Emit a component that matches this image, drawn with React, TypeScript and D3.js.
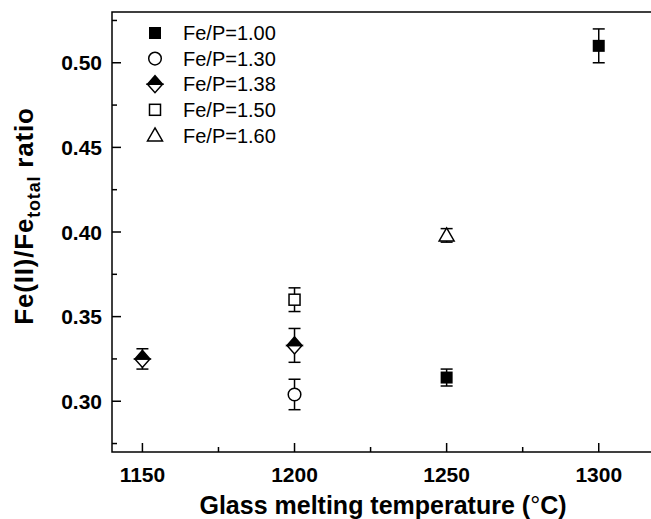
import React from 'react';
import * as d3 from 'd3';

// series (temperature °C, Fe(II)/Fe_total ratio, error)
const seriesNames = ['Fe/P=1.00', 'Fe/P=1.30', 'Fe/P=1.38', 'Fe/P=1.50', 'Fe/P=1.60'];
const fe100 = [{ t: 1250, v: 0.314, e: 0.005 }, { t: 1300, v: 0.51, e: 0.01 }];
const fe130 = [{ t: 1200, v: 0.304, e: 0.009 }];
const fe138 = [{ t: 1150, v: 0.325, e: 0.006 }, { t: 1200, v: 0.333, e: 0.01 }];
const fe150 = [{ t: 1200, v: 0.36, e: 0.007 }];
const fe160 = [{ t: 1250, v: 0.398, e: 0.004 }];

const xTicks = [1150, 1200, 1250, 1300];
const xMinor = [1175, 1225, 1275];
const yTicks = [0.3, 0.35, 0.4, 0.45, 0.5];
const yMinor = [0.275, 0.325, 0.375, 0.425, 0.475, 0.525];

const W = 651;
const H = 519;
const left = 112, top = 12, bottom = 452, right = 690;

const x = d3.scaleLinear().domain([1140, 1330]).range([left, right]);
const y = d3.scaleLinear().domain([0.27, 0.53]).range([bottom, top]);

type Shape = 'sq' | 'circle' | 'diamond' | 'osq' | 'tri';
const shapes: Shape[] = ['sq', 'circle', 'diamond', 'osq', 'tri'];
const allSeries = [fe100, fe130, fe138, fe150, fe160];

function Marker({ shape, cx, cy }: { shape: Shape; cx: number; cy: number }) {
  const sw = 1.5;
  if (shape === 'sq') return <rect x={cx - 6} y={cy - 6} width={12} height={12} fill="#000" />;
  if (shape === 'osq')
    return <rect x={cx - 5.5} y={cy - 5.5} width={11} height={11} fill="#fff" stroke="#000" strokeWidth={sw} />;
  if (shape === 'circle') return <circle cx={cx} cy={cy} r={6.3} fill="#fff" stroke="#000" strokeWidth={sw} />;
  if (shape === 'tri')
    return (
      <path
        d={`M${cx},${cy - 7.5}L${cx + 7.5},${cy + 5.5}L${cx - 7.5},${cy + 5.5}Z`}
        fill="#fff"
        stroke="#000"
        strokeWidth={sw}
      />
    );
  // half-filled diamond
  const hw = 7.5, hh = 8.5;
  return (
    <g>
      <path d={`M${cx - hw},${cy}L${cx},${cy + hh}L${cx + hw},${cy}Z`} fill="#fff" stroke="#000" strokeWidth={sw} />
      <path d={`M${cx - hw},${cy}L${cx},${cy - hh}L${cx + hw},${cy}Z`} fill="#000" stroke="#000" strokeWidth={sw} />
    </g>
  );
}

export default function App() {
  const font = 'Liberation Sans, Arial, sans-serif';
  return (
    <svg width={W} height={H} style={{ position: 'absolute', left: 0, top: 0, background: '#fff' }}>
      {/* frame */}
      <rect x={left} y={top} width={right - left} height={bottom - top} fill="none" stroke="#000" strokeWidth={1.5} />

      {/* y ticks */}
      {yTicks.map((t) => (
        <g key={'y' + t}>
          <line x1={left} x2={left + 9} y1={y(t)} y2={y(t)} stroke="#000" strokeWidth={1.5} />
          <text x={left - 10} y={y(t)} dy="0.36em" textAnchor="end" fontSize={21} fontFamily={font} fontWeight={700}>
            {d3.format('.2f')(t)}
          </text>
        </g>
      ))}
      {yMinor.map((t) => (
        <line key={'ym' + t} x1={left} x2={left + 5} y1={y(t)} y2={y(t)} stroke="#000" strokeWidth={1.5} />
      ))}

      {/* x ticks */}
      {xTicks.map((t) => (
        <g key={'x' + t}>
          <line x1={x(t)} x2={x(t)} y1={bottom} y2={bottom - 9} stroke="#000" strokeWidth={1.5} />
          <text x={x(t)} y={bottom + 30} textAnchor="middle" fontSize={21} fontFamily={font} fontWeight={700}>
            {t}
          </text>
        </g>
      ))}
      {xMinor.map((t) => (
        <line key={'xm' + t} x1={x(t)} x2={x(t)} y1={bottom} y2={bottom - 5} stroke="#000" strokeWidth={1.5} />
      ))}

      {/* axis titles */}
      <text x={383} y={514} textAnchor="middle" fontSize={25} fontFamily={font} fontWeight={700}>
        Glass melting temperature (<tspan fontWeight={400}>°</tspan>C)
      </text>
      <text transform="translate(33,216) rotate(-90)" textAnchor="middle" fontSize={26} fontFamily={font} fontWeight={700} letterSpacing={0.8}>
        Fe(II)/Fe
        <tspan fontSize={18} dy={7}>total</tspan>
        <tspan dy={-7}> ratio</tspan>
      </text>

      {/* error bars */}
      {allSeries.map((s, i) =>
        s.map((d, j) => {
          const cx = x(d.t);
          const y1 = y(d.v + d.e);
          const y2 = y(d.v - d.e);
          return (
            <g key={`e${i}-${j}`} stroke="#000" strokeWidth={1.5}>
              <line x1={cx} x2={cx} y1={y1} y2={y2} />
              <line x1={cx - 6} x2={cx + 6} y1={y1} y2={y1} />
              <line x1={cx - 6} x2={cx + 6} y1={y2} y2={y2} />
            </g>
          );
        })
      )}

      {/* markers */}
      {allSeries.map((s, i) =>
        s.map((d, j) => <Marker key={`m${i}-${j}`} shape={shapes[i]} cx={x(d.t)} cy={y(d.v)} />)
      )}

      {/* legend */}
      {seriesNames.map((n, i) => {
        const ly = 33 + i * 25.6;
        return (
          <g key={n}>
            <Marker shape={shapes[i]} cx={155} cy={ly} />
            <text x={183} y={ly} dy="0.36em" fontSize={20} fontFamily={font}>
              {n}
            </text>
          </g>
        );
      })}
    </svg>
  );
}
